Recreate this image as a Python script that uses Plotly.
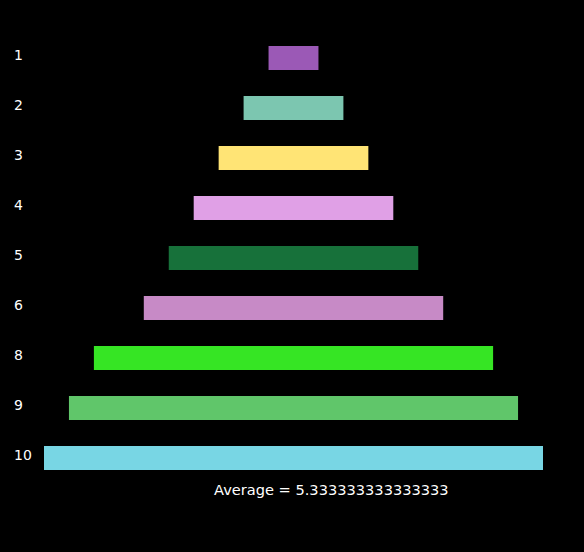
import plotly.graph_objects as go

categories = ["1", "2", "3", "4", "5", "6", "8", "9", "10"]
values = [1, 2, 3, 4, 5, 6, 8, 9, 10]
colors = ["#9B59B6", "#7CC6B0", "#FFE475", "#E0A0E6", "#17713A",
          "#C78AC6", "#36E524", "#60C66A", "#78D6E4"]

avg = sum(values) / len(values)

PLOT_W = 499
PLOT_H = 450

fig = go.Figure(go.Bar(
    y=categories,
    x=values,
    base=[-v / 2 for v in values],
    orientation="h",
    marker=dict(color=colors, line=dict(width=0)),
    width=0.48,
    hoverinfo="y+x",
))

# left-aligned category labels (placed at each category's slot on the y axis)
for i, c in enumerate(categories):
    fig.add_annotation(
        text=c, xref="paper", yref="y", x=-32 / PLOT_W, y=i, yshift=3,
        xanchor="left", yanchor="middle", showarrow=False,
        font=dict(color="white", size=14, family="DejaVu Sans"),
    )

fig.add_annotation(
    text=f"Average = {avg}",
    xref="paper", yref="paper",
    x=(331 - 44) / PLOT_W, y=-6 / PLOT_H,
    xanchor="center", yanchor="middle",
    showarrow=False,
    font=dict(color="white", size=14.6, family="DejaVu Sans"),
)

fig.update_layout(
    width=584, height=552,
    paper_bgcolor="black", plot_bgcolor="black",
    margin=dict(l=44, r=41, t=33, b=69),
    showlegend=False,
    font=dict(color="white", family="DejaVu Sans", size=14),
    xaxis=dict(range=[-5, 5], showgrid=False, zeroline=False,
               showticklabels=False, ticks=""),
    yaxis=dict(autorange="reversed", showgrid=False, zeroline=False,
               ticks="", type="category", showticklabels=False),
)

fig.write_html(
    "out.html",
    config={"displayModeBar": False},
    post_script="document.body.style.margin='0';document.body.style.background='black';",
)
